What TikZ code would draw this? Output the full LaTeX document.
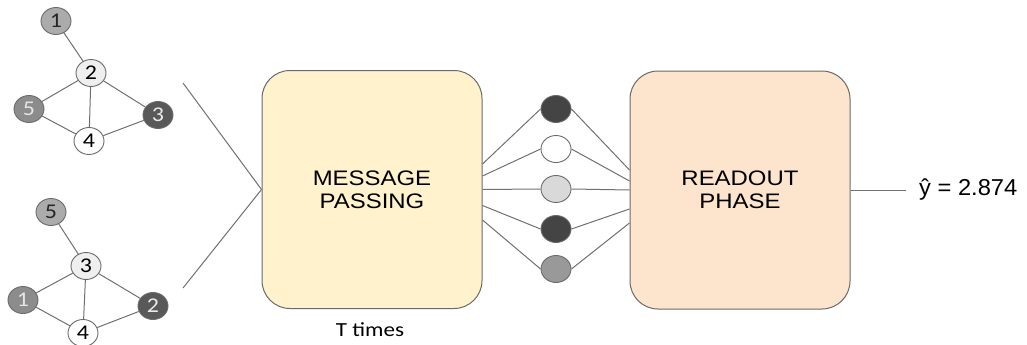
\documentclass[tikz,border=0pt]{standalone}
\usepackage{fontspec}
\setmainfont{Liberation Sans}
\newfontfamily\numfont{Carlito}
\usetikzlibrary{shapes.geometric}
\definecolor{edgegray}{HTML}{707070}
\definecolor{ringgray}{HTML}{6A6A6A}
\definecolor{mpfill}{HTML}{FFF2CC}
\definecolor{rofill}{HTML}{FCE4CD}
\definecolor{lightg}{HTML}{ABABAB}
\definecolor{midg}{HTML}{8C8C8C}
\definecolor{darkg}{HTML}{595959}
\definecolor{paleg}{HTML}{EFEFEF}
\definecolor{featdark}{HTML}{444444}
\definecolor{featlight}{HTML}{D9D9D9}
\definecolor{featmid}{HTML}{999999}
\newcommand{\stretchtxt}[2][1.14]{\scalebox{#1}[1]{#2}}
\begin{document}
\begin{tikzpicture}[x=1pt,y=-1pt,
  gnode/.style={ellipse, draw=ringgray, line width=0.9pt, minimum width=30pt,
    minimum height=27pt, inner sep=0pt, font=\numfont\fontsize{21}{21}\selectfont},
  feat/.style={ellipse, draw=ringgray, line width=0.9pt, minimum width=30pt,
    minimum height=27pt, inner sep=0pt},
  link/.style={draw=edgegray, line width=1pt},
  stage/.style={draw=ringgray, line width=1pt, rounded corners=28pt,
    minimum width=220pt, minimum height=238pt, align=center,
    font=\fontsize{21}{23}\selectfont}]
\useasboundingbox (0,0) rectangle (1027,345);

% first molecule graph
\node[gnode, fill=lightg, text=black!85]      (a1) at (56,21)  {\stretchtxt{1}};
\node[gnode, fill=paleg, text=black]          (a2) at (91,73)  {\stretchtxt{2}};
\node[gnode, fill=midg, text=white!90!black]  (a5) at (29,109) {\stretchtxt{5}};
\node[gnode, fill=darkg, text=white!92!black] (a3) at (158,115) {\stretchtxt{3}};
\node[gnode, fill=white, text=black]          (a4) at (89,141) {\stretchtxt{4}};
\draw[link] (a1) -- (a2);
\draw[link] (a2) -- (a5);
\draw[link] (a2) -- (a3);
\draw[link] (a2) -- (a4);
\draw[link] (a5) -- (a4);
\draw[link] (a3) -- (a4);

% second molecule graph
\node[gnode, fill=lightg, text=black!85]      (b5) at (51,212) {\stretchtxt{5}};
\node[gnode, fill=paleg, text=black]          (b3) at (86,266) {\stretchtxt{3}};
\node[gnode, fill=midg, text=white!90!black]  (b1) at (23,300) {\stretchtxt{1}};
\node[gnode, fill=darkg, text=white!92!black] (b2) at (153,306) {\stretchtxt{2}};
\node[gnode, fill=white, text=black]          (b4) at (83,333) {\stretchtxt{4}};
\draw[link] (b5) -- (b3);
\draw[link] (b3) -- (b1);
\draw[link] (b3) -- (b2);
\draw[link] (b3) -- (b4);
\draw[link] (b1) -- (b4);
\draw[link] (b2) -- (b4);

% processing stages
\node[stage, fill=mpfill] (mp) at (372,189.5)
  {\stretchtxt{MESSAGE}\\\stretchtxt{PASSING}};
\node[stage, fill=rofill] (ro) at (740,190)
  {\stretchtxt{READOUT}\\\stretchtxt{PHASE}};
\node[font=\numfont\fontsize{20}{20}\selectfont] (tt) at (370,330) {\stretchtxt[1.15]{T times}};

% inputs into message passing
\coordinate (in1) at (183,83);
\coordinate (in2) at (183,288);
\draw[link] (in1) -- (mp.west);
\draw[link] (in2) -- (mp.west);

% node feature vector
\node[feat, fill=featdark]  (f1) at (556,109) {};
\node[feat, fill=white]     (f2) at (556,149) {};
\node[feat, fill=featlight] (f3) at (556,189) {};
\node[feat, fill=featdark]  (f4) at (556,229) {};
\node[feat, fill=featmid]   (f5) at (556,269) {};

\draw[link] ([yshift=25.5pt]mp.east) -- (f1.west);
\draw[link] ([yshift=13.5pt]mp.east) -- (f2.west);
\draw[link] (mp.east) -- (f3.west);
\draw[link] ([yshift=-16pt]mp.east) -- (f4.west);
\draw[link] ([yshift=-30.5pt]mp.east) -- (f5.west);

\draw[link] (f1.east) -- ([yshift=20pt]ro.west);
\draw[link] (f2.east) -- ([yshift=9pt]ro.west);
\draw[link] (f3.east) -- (ro.west);
\draw[link] (f4.east) -- ([yshift=-19pt]ro.west);
\draw[link] (f5.east) -- ([yshift=-33pt]ro.west);

% prediction
\node[anchor=west, inner xsep=13pt, inner ysep=0pt,
  font=\fontsize{23}{23}\selectfont] (out) at (906,190) {\stretchtxt[1.03]{ŷ = 2.874}};
\draw[link] (ro.east) -- (out.west);
\end{tikzpicture}
\end{document}
